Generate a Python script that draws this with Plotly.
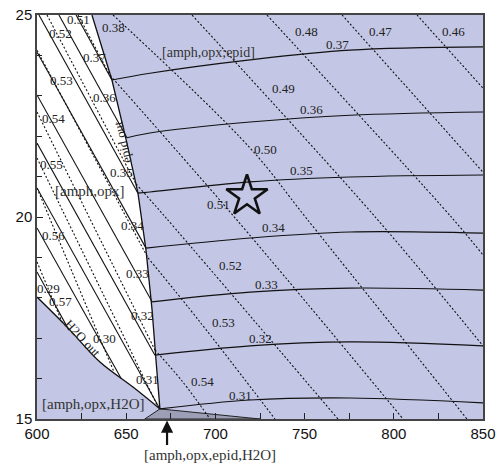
import plotly.graph_objects as go

# ---------------- data (T in °C, P in kbar) ----------------
# field boundaries
epid_out_T = [630.8, 642.0, 650.4, 656.6, 661.1, 664.5, 666.7, 668.9]
epid_out_P = [25.0, 23.39, 21.83, 20.59, 19.18, 17.70, 16.46, 15.25]
h2o_out_T = [600.0, 616.8, 635.3, 653.8, 668.9]
h2o_out_P = [18.02, 17.28, 16.41, 15.79, 15.25]
dark_T = [660.4, 668.9, 725.0]
dark_P = [15.0, 15.25, 15.0]

# solid isopleths: segment in the white field, segment in the blue field
solid_white = {
    "0.37": ([621.9, 642.0], [25.0, 23.39]),
    "0.36": ([612.3, 650.4], [25.0, 21.96]),
    "0.35": ([601.1, 656.6], [25.0, 20.59]),
    "0.34": ([600.0, 661.1], [24.08, 19.23]),
    "0.33": ([600.0, 664.5], [23.02, 17.90]),
    "0.32": ([600.0, 666.1], [21.83, 16.58]),
    "0.31": ([600.0, 668.9], [20.72, 15.25]),
    "0.30": ([600.0, 647.1], [19.73, 16.01]),
    "0.29": ([600.0, 617.9], [18.64, 17.20]),
}
solid_blue = {
    "0.37": ([642.0, 663.3, 719.4, 775.4, 850.0], [23.39, 23.56, 23.89, 24.13, 24.21]),
    "0.36": ([650.4, 663.3, 719.4, 775.4, 850.0], [21.96, 22.08, 22.35, 22.52, 22.60]),
    "0.35": ([656.6, 663.3, 719.4, 775.4, 850.0], [20.59, 20.62, 20.87, 20.99, 21.04]),
    "0.34": ([661.1, 719.4, 775.4, 850.0], [19.23, 19.48, 19.63, 19.60]),
    "0.33": ([664.5, 719.4, 775.4, 850.0], [17.90, 18.14, 18.24, 18.19]),
    "0.32": ([666.1, 719.4, 775.4, 850.0], [16.58, 16.81, 16.91, 16.81]),
    "0.31": ([668.9, 719.4, 775.4, 850.0], [15.25, 15.47, 15.52, 15.40]),
}

# dashed isopleths
dashed_white = {
    "0.51": ([623.0, 640.9], [25.0, 23.51]),
    "0.52": ([605.6, 655.5], [25.0, 20.82]),
    "0.53": ([600.0, 662.2], [24.13, 18.99]),
    "0.54": ([600.0, 666.1], [22.60, 16.71]),
    "0.55": ([600.0, 667.8], [21.46, 15.30]),
    "0.56": ([600.0, 643.2], [20.72, 16.16]),
    "0.57": ([600.0, 614.0], [18.89, 17.40]),
}
dashed_blue = {
    "0.46": ([813.0, 850.0], [25.0, 23.19]),
    "0.47": ([771.0, 850.0], [25.0, 21.11]),
    "0.48": ([728.9, 832.6, 850.0], [25.0, 19.98, 19.06]),
    "0.49": ([686.9, 790.0, 850.0], [25.0, 19.98, 16.81]),
    "0.50": ([642.6, 719.4, 750.8, 841.0], [25.0, 21.71, 19.98, 15.0]),
    "0.51": ([640.9, 711.0, 805.2], [23.51, 19.98, 15.0]),
    "0.52": ([655.5, 672.3, 768.7], [20.82, 19.98, 15.0]),
    "0.53": ([662.2, 691.4, 733.4], [18.99, 17.40, 15.0]),
    "0.54": ([666.1, 681.3, 697.0], [16.71, 15.94, 15.0]),
}

star_T = [717.7]
star_P = [20.52]

# isopleth labels: text, T, P
iso_labels = [
    ("0.38", 642.6, 24.70), ("0.48", 750.8, 24.58), ("0.37", 768.7, 24.26),
    ("0.47", 792.3, 24.58), ("0.46", 833.2, 24.58), ("0.49", 737.9, 23.17),
    ("0.36", 753.6, 22.65), ("0.50", 727.8, 21.66), ("0.35", 748.5, 21.16),
    ("0.51", 702.0, 20.30), ("0.34", 732.3, 19.73), ("0.52", 708.2, 18.79),
    ("0.33", 728.9, 18.34), ("0.53", 704.3, 17.40), ("0.32", 725.0, 17.00),
    ("0.54", 693.0, 15.92), ("0.31", 713.8, 15.57),
    ("0.51", 623.0, 24.88), ("0.52", 612.9, 24.55), ("0.37", 632.5, 23.96),
    ("0.53", 613.5, 23.37), ("0.36", 637.6, 22.95), ("0.54", 609.0, 22.43),
    ("0.55", 608.4, 21.31), ("0.35", 647.6, 21.09), ("0.56", 609.5, 19.53),
    ("0.34", 653.8, 19.80), ("0.33", 656.6, 18.61), ("0.29", 606.7, 18.24),
    ("0.57", 612.9, 17.90), ("0.32", 658.9, 17.57), ("0.30", 637.6, 17.00),
    ("0.31", 662.2, 15.97),
]

field_labels = [
    ("[amph,opx;epid]", 695.9, 24.06, 14),
    ("[amph,opx]", 629.7, 20.64, 15),
    ("[amph,opx,H2O]", 631.4, 15.37, 15),
]

# ---------------- figure ----------------
BLUE = "#c3c7e5"
DARK = "#9c9fb6"
INK = "#111111"
fig = go.Figure()

# white [amph,opx] field
wT = [600.0, 630.8] + epid_out_T[1:] + h2o_out_T[::-1][1:] + [600.0]
wP = [25.0, 25.0] + epid_out_P[1:] + h2o_out_P[::-1][1:] + [25.0]
fig.add_trace(go.Scatter(x=wT, y=wP, fill="toself", fillcolor="white",
                         mode="lines", line=dict(width=0), hoverinfo="skip"))
# dark [amph,opx,epid,H2O] field
fig.add_trace(go.Scatter(x=dark_T + [dark_T[0]], y=dark_P + [dark_P[0]], fill="toself",
                         fillcolor=DARK, mode="lines", line=dict(color="#222", width=1),
                         hoverinfo="skip"))

DOT = dict(color=INK, width=1.1, dash="2px,2px")
SOL = dict(color=INK, width=1.1)
for T, P in dashed_white.values():
    fig.add_trace(go.Scatter(x=T, y=P, mode="lines", line=DOT, hoverinfo="skip"))
for T, P in dashed_blue.values():
    fig.add_trace(go.Scatter(x=T, y=P, mode="lines", line=DOT, line_shape="spline",
                             hoverinfo="skip"))
for T, P in solid_white.values():
    fig.add_trace(go.Scatter(x=T, y=P, mode="lines", line=SOL, hoverinfo="skip"))
for T, P in solid_blue.values():
    fig.add_trace(go.Scatter(x=T, y=P, mode="lines", line=SOL, line_shape="spline",
                             hoverinfo="skip"))

fig.add_trace(go.Scatter(x=epid_out_T, y=epid_out_P, mode="lines",
                         line=dict(color=INK, width=1.3), hoverinfo="skip"))
fig.add_trace(go.Scatter(x=h2o_out_T, y=h2o_out_P, mode="lines", line_shape="spline",
                         line=dict(color=INK, width=1.3), hoverinfo="skip"))

fig.add_trace(go.Scatter(x=star_T, y=star_P, mode="markers",
                         marker=dict(symbol="star-open", size=31, color=INK,
                                     line=dict(width=2.6, color=INK)),
                         hoverinfo="skip"))

SERIF = "Liberation Serif"
ann = []
for txt, t, p in iso_labels:
    ann.append(dict(x=t, y=p, text=txt, showarrow=False, xref="x", yref="y",
                    font=dict(family=SERIF, size=13, color="#222")))
for txt, t, p, fs in field_labels:
    ann.append(dict(x=t, y=p, text=txt, showarrow=False, xref="x", yref="y",
                    font=dict(family=SERIF, size=fs, color="#333")))
ann.append(dict(x=648.0, y=21.86, text="epid out", showarrow=False, textangle=-103,
                font=dict(family=SERIF, size=13, color="#222")))
ann.append(dict(x=625.8, y=17.0, text="H2O out", showarrow=False, textangle=47,
                font=dict(family=SERIF, size=13, color="#222")))
# below-axis field label and its pointer (paper y so it is not hidden off-range)
ann.append(dict(x=697.0, xref="x", y=-0.089, yref="paper", yanchor="middle",
                text="[amph,opx,epid,H2O]", showarrow=False,
                font=dict(family=SERIF, size=15, color="#333")))
ann.append(dict(x=672.9, xref="x", y=-0.004, yref="paper", ax=0, ay=26,
                text="", showarrow=True, arrowhead=2, arrowsize=1.1,
                arrowwidth=2.2, arrowcolor=INK))

fig.update_layout(
    width=499, height=464, showlegend=False,
    margin=dict(l=37, r=16, t=15, b=45, autoexpand=False),
    plot_bgcolor=BLUE, paper_bgcolor="white",
    annotations=ann,
    font=dict(family="Liberation Sans", size=15, color="#111"),
)
fig.update_xaxes(range=[600, 850], tickvals=[600, 650, 700, 750, 800, 850],
                 ticks="inside", ticklen=6, tickwidth=1, tickcolor="#222",
                 minor=dict(dtick=25, ticks="inside", ticklen=6, tickcolor="#222"),
                 showgrid=False, zeroline=False, showline=True, linecolor="#444",
                 linewidth=1.5, mirror=True, automargin=False)
fig.update_yaxes(range=[15, 25], tickvals=[15, 20, 25],
                 ticks="inside", ticklen=6, tickwidth=1, tickcolor="#222",
                 minor=dict(dtick=1, ticks="inside", ticklen=5, tickcolor="#222"),
                 showgrid=False, zeroline=False, showline=True, linecolor="#444",
                 linewidth=1.5, mirror=True, automargin=False)

# remove the default page margin so the figure sits at the window's corner
fig.write_html("out.html", config={"displayModeBar": False},
               post_script="document.body.style.margin='0';")
